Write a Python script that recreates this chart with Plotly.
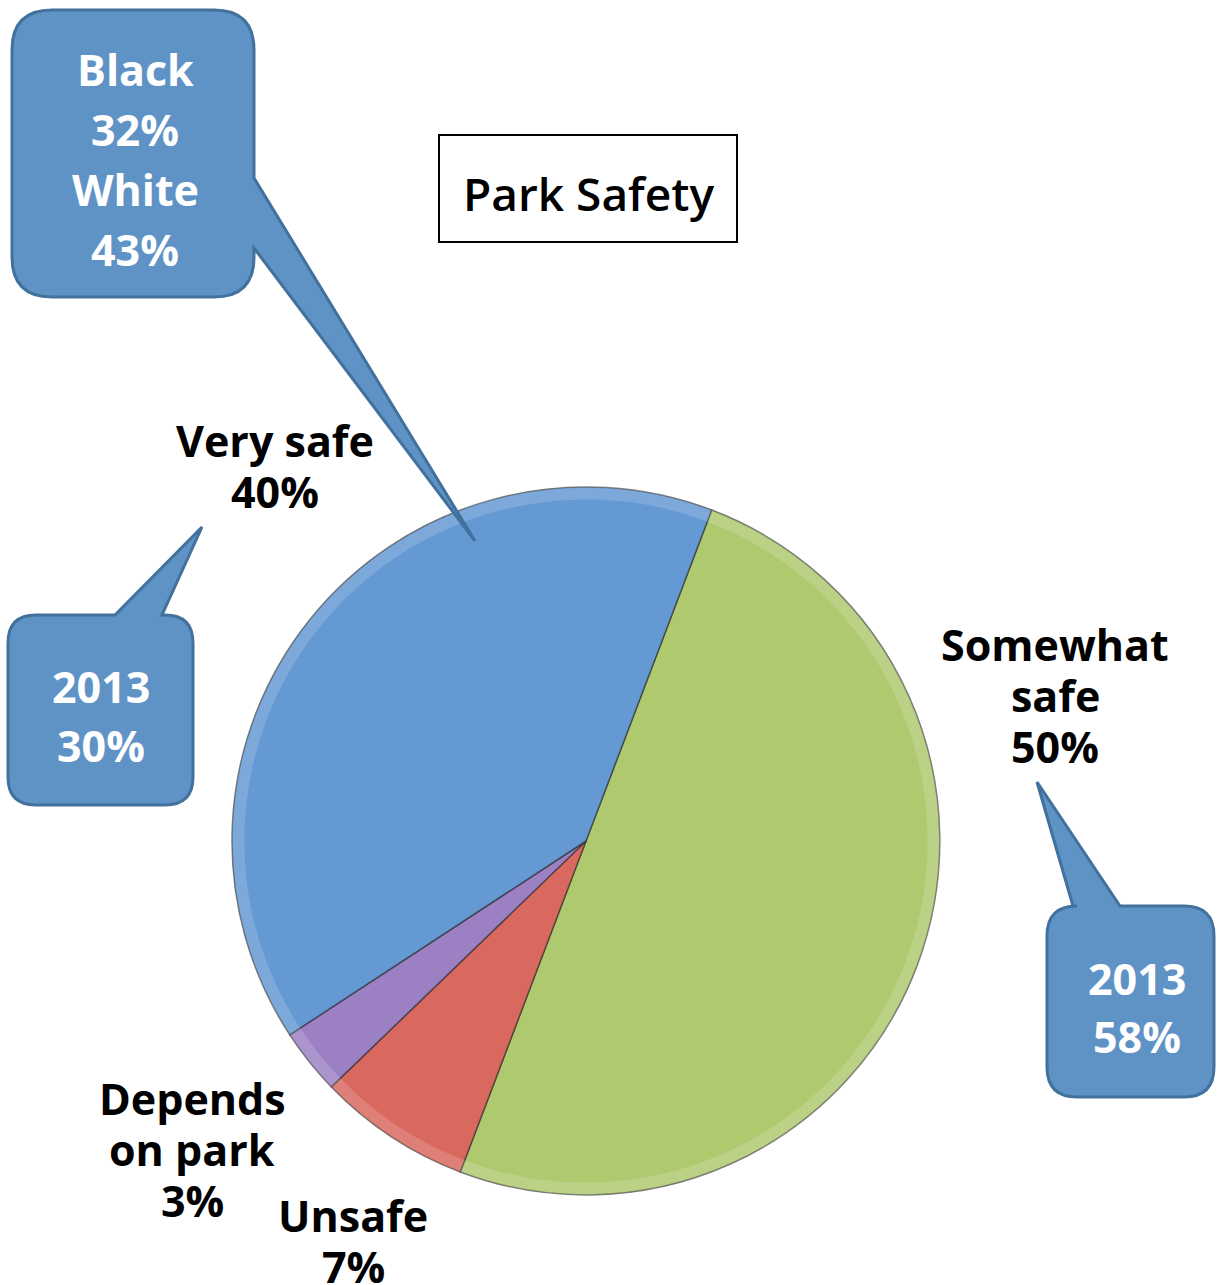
import plotly.graph_objects as go

# ---- data ----
categories = ["Somewhat safe", "Unsafe", "Depends on park", "Very safe"]
shares = [50, 7, 3, 40]
slice_colors = ["#AFC96F", "#D9685F", "#9C80C4", "#6499D3"]

# how each category name is wrapped in its outside label
label_wrap = {
    "Somewhat safe": ["Somewhat", "safe"],
    "Unsafe": ["Unsafe"],
    "Depends on park": ["Depends", "on park"],
    "Very safe": ["Very safe"],
}

# comparison call-outs
race_groups = ["Black", "White"]
race_very_safe = [32, 43]
prior_year = 2013
prior_very_safe = 30
prior_somewhat_safe = 58

title_text = "Park Safety"

# ---- layout constants (pixel space of the page) ----
W, H = 1217, 1285
PIE_CX, PIE_CY, PIE_R = 586, 841, 354
FONT = "Open Sans"
CALLOUT_FILL = "#5F93C6"
CALLOUT_LINE = "#41719C"

pie_domain = dict(
    x=[(PIE_CX - PIE_R) / W, (PIE_CX + PIE_R) / W],
    y=[1 - (PIE_CY + PIE_R) / H, 1 - (PIE_CY - PIE_R) / H],
)

fig = go.Figure()

fig.add_trace(go.Pie(
    labels=categories,
    values=shares,
    sort=False,
    direction="clockwise",
    rotation=20.8,
    marker=dict(colors=slice_colors, line=dict(color="rgba(40,40,40,0.6)", width=1.5)),
    textinfo="none",
    hoverinfo="label+percent",
    showlegend=False,
    domain=pie_domain,
))

# soft bevel highlight just inside the rim
fig.add_trace(go.Pie(
    labels=categories,
    values=shares,
    sort=False,
    direction="clockwise",
    rotation=20.8,
    hole=0.965,
    marker=dict(colors=["rgba(255,255,255,0.16)"] * len(categories),
                line=dict(color="rgba(0,0,0,0)", width=0)),
    textinfo="none",
    hoverinfo="skip",
    showlegend=False,
    domain=pie_domain,
))


def callout_path(x0, y0, x1, y1, r, side, a, b, tip):
    """Rounded rectangle with a pointed tail; a/b are where the tail meets the edge."""
    tx, ty = tip
    p = [f"M {x0 + r},{y0}"]
    if side == "top":
        p += [f"L {a},{y0}", f"L {tx},{ty}", f"L {b},{y0}"]
    p += [f"L {x1 - r},{y0}", f"Q {x1},{y0} {x1},{y0 + r}"]
    if side == "right":
        p += [f"L {x1},{a}", f"L {tx},{ty}", f"L {x1},{b}"]
    p += [f"L {x1},{y1 - r}", f"Q {x1},{y1} {x1 - r},{y1}",
          f"L {x0 + r},{y1}", f"Q {x0},{y1} {x0},{y1 - r}",
          f"L {x0},{y0 + r}", f"Q {x0},{y0} {x0 + r},{y0}", "Z"]
    return " ".join(p)


def text_block(lines, cx, cy, size, spacing, color):
    n = len(lines)
    for i, line in enumerate(lines):
        fig.add_annotation(
            x=cx, y=cy + (i - (n - 1) / 2) * spacing, xref="x", yref="y",
            text=f"<b>{line}</b>", showarrow=False,
            xanchor="center", yanchor="middle",
            font=dict(family=FONT, size=size, color=color),
        )


callouts = [
    dict(box=(12, 10, 254, 297), r=40, side="right", a=178, b=248, tip=(475, 541),
         lines=[v for g, s in zip(race_groups, race_very_safe) for v in (g, f"{s}%")],
         center=(135, 159), spacing=60),
    dict(box=(8, 615, 193, 805), r=28, side="top", a=115, b=162, tip=(202, 527),
         lines=[str(prior_year), f"{prior_very_safe}%"], center=(101, 716), spacing=59),
    dict(box=(1047, 906, 1214, 1097), r=30, side="top", a=1073, b=1120, tip=(1037, 782),
         lines=[str(prior_year), f"{prior_somewhat_safe}%"], center=(1137, 1007), spacing=58),
]

for c in callouts:
    x0, y0, x1, y1 = c["box"]
    fig.add_shape(
        type="path", xref="x", yref="y", layer="above",
        path=callout_path(x0, y0, x1, y1, c["r"], c["side"], c["a"], c["b"], c["tip"]),
        fillcolor=CALLOUT_FILL, line=dict(color=CALLOUT_LINE, width=3),
    )
    text_block(c["lines"], c["center"][0], c["center"][1], 43, c["spacing"], "white")

# outside category labels
label_centers = {
    "Very safe": (275, 466),
    "Somewhat safe": (1055, 695),
    "Depends on park": (192, 1149),
    "Unsafe": (353, 1241),
}
for cat, val in zip(categories, shares):
    cx, cy = label_centers[cat]
    text_block(label_wrap[cat] + [f"{val}%"], cx, cy, 43, 51, "black")

# title box
fig.add_shape(type="rect", xref="x", yref="y", x0=439, y0=135, x1=737, y1=242,
              line=dict(color="black", width=2), fillcolor="white", layer="above")
fig.add_annotation(x=588, y=193, xref="x", yref="y", text=title_text, showarrow=False,
                   xanchor="center", yanchor="middle",
                   font=dict(family=FONT, size=46, color="black", weight=600))

fig.update_layout(
    width=W, height=H,
    margin=dict(l=0, r=0, t=0, b=0),
    paper_bgcolor="white", plot_bgcolor="white",
    xaxis=dict(range=[0, W], visible=False, fixedrange=True, domain=[0, 1]),
    yaxis=dict(range=[H, 0], visible=False, fixedrange=True, domain=[0, 1]),
)

fig.write_html("out.html")
